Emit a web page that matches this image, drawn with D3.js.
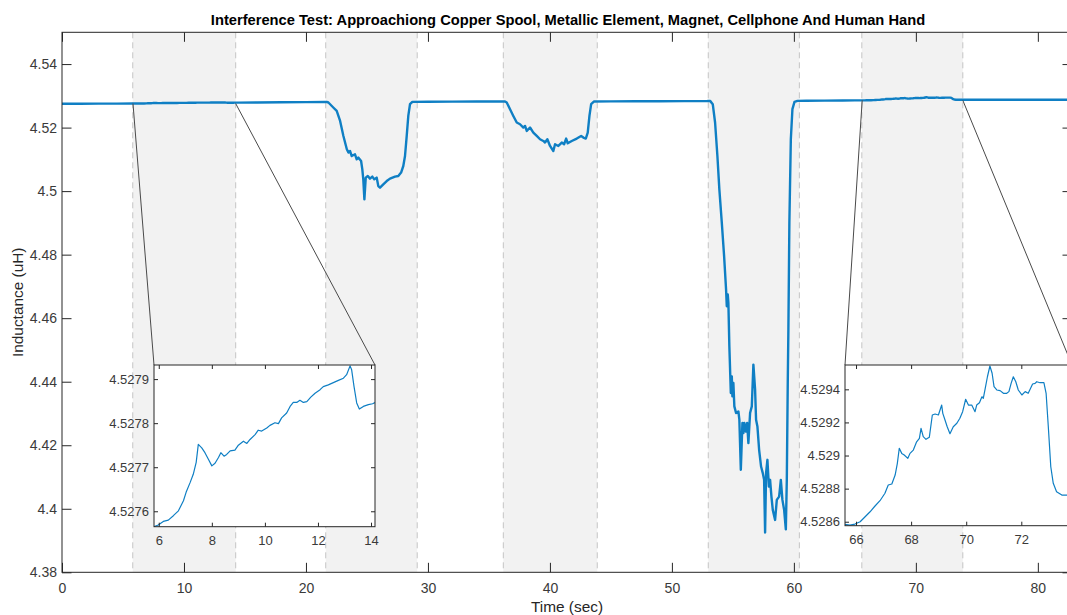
<!DOCTYPE html>
<html><head><meta charset="utf-8">
<script src="https://cdn.jsdelivr.net/npm/d3@7"></script>
<style>
body{margin:0;background:#fff;overflow:hidden;}
svg{display:block;font-family:"Liberation Sans",Arial,Helvetica,sans-serif;}
</style></head><body>
<svg id="chart" width="1067" height="615"></svg>
<script>
const title = "Interference Test: Approachiong Copper Spool, Metallic Element, Magnet, Cellphone And Human Hand";
const xLabel = "Time (sec)";
const yLabel = "Inductance (uH)";

// Main series (time in sec, inductance in uH)
const time = [
  0, 1.5, 3, 4.5,
  5.82, 5.98, 6.17, 6.36, 6.55, 6.74, 6.93, 7.03, 7.18, 7.30, 7.41, 7.49, 7.62, 7.74, 7.87, 8.00,
  8.12, 8.25, 8.34, 8.46, 8.56, 8.69, 8.87, 9.00, 9.19, 9.32, 9.44, 9.63, 9.75, 9.88, 10.07, 10.19,
  10.38, 10.51, 10.63, 10.82, 10.95, 11.07, 11.20, 11.32, 11.45, 11.58, 11.73, 11.89, 12.08, 12.20,
  12.39, 12.58, 12.77, 12.96, 13.08, 13.21, 13.27, 13.36, 13.46, 13.56, 13.71, 13.90, 14.06, 14.15,
  14.5, 16, 18, 20, 21.5,
  21.70, 21.84, 22.24, 22.52, 22.80, 23.07, 23.35, 23.48, 23.61, 23.75, 24.02, 24.16, 24.29, 24.52,
  24.62, 24.70, 24.79, 24.90, 25.07, 25.25, 25.44, 25.60, 25.80, 25.93, 26.07, 26.34, 26.62, 26.89,
  27.30, 27.57, 27.80, 27.98, 28.12, 28.26, 28.39, 28.53, 28.72,
  30, 32, 34, 36.0,
  36.32, 36.46, 36.73, 37.00, 37.28, 37.55, 37.82, 37.96, 38.10, 38.37, 38.64, 38.92, 39.19, 39.46,
  39.60, 39.79, 40.01, 40.28, 40.42, 40.69, 40.97, 41.16, 41.33, 41.46, 41.79, 42.20, 42.56, 42.74,
  42.94, 43.10, 43.24, 43.38, 43.62,
  45, 47, 49, 51, 52.9,
  53.13, 53.35, 53.54, 53.73, 53.89, 54.09, 54.28, 54.44, 54.50, 54.58, 54.63, 54.71, 54.83, 54.91,
  54.96, 55.04, 55.12, 55.26, 55.45, 55.53, 55.65, 55.78, 55.86, 55.94, 56.06, 56.17, 56.27, 56.41,
  56.55, 56.68, 56.82, 56.90, 57.01, 57.15, 57.31, 57.45, 57.56, 57.64, 57.72, 57.83, 57.95, 58.05,
  58.16, 58.27, 58.46, 58.60, 58.79, 58.93, 59.06, 59.20, 59.34, 59.42, 59.50, 59.55, 59.63, 59.75,
  59.88, 60.05, 60.29,
  61, 62.5, 64, 65,
  65.60, 65.78, 65.96, 66.15, 66.33, 66.51, 66.69, 66.87, 67.05, 67.17, 67.30, 67.42, 67.50, 67.57,
  67.66, 67.75, 67.88, 67.96, 68.08, 68.20, 68.30, 68.36, 68.44, 68.54, 68.66, 68.77, 68.87, 68.99,
  69.05, 69.11, 69.15, 69.23, 69.31, 69.41, 69.53, 69.66, 69.77, 69.87, 69.98, 70.08, 70.20, 70.32,
  70.38, 70.48, 70.57, 70.62, 70.68, 70.77, 70.86, 70.94, 71.01, 71.11, 71.23, 71.35, 71.47, 71.55,
  71.63, 71.71, 71.80, 71.89, 72.02, 72.14, 72.25, 72.32, 72.41, 72.50, 72.56, 72.68, 72.82, 72.90,
  72.98, 73.07, 73.16, 73.28, 73.47, 73.65,
  74, 76, 78, 80, 82.8
];
const inductance = [
  4.52752, 4.52753, 4.52755, 4.52756,
  4.527565, 4.527569, 4.527577, 4.527580, 4.527590, 4.527601, 4.527624, 4.527643, 4.527665, 4.527684, 4.527711, 4.527752, 4.527744, 4.527733, 4.527718, 4.527703,
  4.527709, 4.527722, 4.527733, 4.527725, 4.527729, 4.527737, 4.527739, 4.527750, 4.527759, 4.527754, 4.527763, 4.527774, 4.527784, 4.527782, 4.527789, 4.527795,
  4.527801, 4.527799, 4.527812, 4.527823, 4.527838, 4.527847, 4.527847, 4.527852, 4.527847, 4.527849, 4.527859, 4.527868, 4.527876, 4.527883,
  4.527887, 4.527892, 4.527897, 4.527902, 4.527910, 4.527930, 4.527921, 4.527883, 4.527846, 4.527832, 4.527838, 4.527842, 4.527844, 4.527847,
  4.52786, 4.52790, 4.52797, 4.52803, 4.52808,
  4.52809, 4.52790, 4.52633, 4.52525, 4.52210, 4.51737, 4.51317, 4.51213, 4.51264, 4.51106, 4.51160, 4.51002, 4.51056, 4.50948,
  4.50687, 4.50371, 4.49741, 4.50425, 4.50475, 4.50394, 4.50457, 4.50371, 4.50425, 4.50160, 4.50109, 4.50214, 4.50318, 4.50394,
  4.50457, 4.50475, 4.50583, 4.50791, 4.51106, 4.51737, 4.52368, 4.52737, 4.52809,
  4.52815, 4.52818, 4.52820, 4.52822,
  4.52822, 4.52790, 4.52579, 4.52368, 4.52160, 4.52106, 4.52002, 4.52052, 4.51895, 4.52002, 4.51844, 4.51737, 4.51633, 4.51579,
  4.51529, 4.51633, 4.51422, 4.51264, 4.51475, 4.51422, 4.51529, 4.51475, 4.51655, 4.51507, 4.51579, 4.51655, 4.51737, 4.51686,
  4.51655, 4.51844, 4.52368, 4.52737, 4.52822,
  4.52825, 4.52828, 4.52830, 4.52833, 4.52838,
  4.52841, 4.52737, 4.52160, 4.51106, 4.50056, 4.49006, 4.47953, 4.46903, 4.46376, 4.46745, 4.46483, 4.45115, 4.43645, 4.44168,
  4.43538, 4.43960, 4.43222, 4.43014, 4.43065, 4.42803, 4.41226, 4.42699, 4.42383, 4.42699, 4.42434, 4.42699, 4.42068, 4.43014,
  4.43222, 4.44537, 4.43749, 4.42803, 4.42592, 4.41857, 4.41330, 4.41122, 4.40911, 4.39250, 4.41122, 4.41541, 4.40699, 4.40911,
  4.40384, 4.39965, 4.39649, 4.40280, 4.40384, 4.40911, 4.40280, 4.39965, 4.39350, 4.40911, 4.44064, 4.45641, 4.49006, 4.51633,
  4.52579, 4.52809, 4.52841,
  4.52845, 4.52850, 4.52855, 4.52857,
  4.528584, 4.528580, 4.528586, 4.528600, 4.528630, 4.528660, 4.528695, 4.528727, 4.528772, 4.528822, 4.528828, 4.528882, 4.528953, 4.529044,
  4.529013, 4.529003, 4.528983, 4.529013, 4.529033, 4.529083, 4.529104, 4.529164, 4.529114, 4.529098, 4.529110, 4.529245, 4.529251, 4.529245,
  4.529275, 4.529305, 4.529255, 4.529215, 4.529174, 4.529132, 4.529174, 4.529195, 4.529225, 4.529265, 4.529340, 4.529305, 4.529305, 4.529265,
  4.529305, 4.529319, 4.529355, 4.529346, 4.529396, 4.529476, 4.529541, 4.529497, 4.529416, 4.529396, 4.529392, 4.529376, 4.529376, 4.529386,
  4.529436, 4.529476, 4.529446, 4.529396, 4.529366, 4.529386, 4.529376, 4.529400, 4.529432, 4.529436, 4.529446, 4.529440, 4.529440, 4.529376,
  4.529174, 4.528932, 4.528832, 4.528781, 4.528761, 4.528761,
  4.52876, 4.52876, 4.52877, 4.52876, 4.52877
];

// Shaded test intervals (sec)
const shadedStart = [5.8, 21.62, 36.18, 52.98, 65.57];
const shadedEnd   = [14.24, 29.12, 43.88, 60.45, 73.85];

// Main axes
const xDomain = [0, 82.8];
const yDomain = [4.38, 4.55];
const xTicks = [0, 10, 20, 30, 40, 50, 60, 70, 80];
const yTicks = [4.38, 4.40, 4.42, 4.44, 4.46, 4.48, 4.50, 4.52, 4.54];

// Inset 1 (zoom of first interval)
const inset1X = [5.82, 14.15];
const inset1Y = [4.527565, 4.527932];
const inset1XTicks = [6, 8, 10, 12, 14];
const inset1YTicks = [4.5276, 4.5277, 4.5278, 4.5279];

// Inset 2 (zoom of last interval)
const inset2X = [65.6, 73.84];
const inset2Y = [4.528576, 4.529547];
const inset2XTicks = [66, 68, 70, 72];
const inset2YTicks = [4.5286, 4.5288, 4.5290, 4.5292, 4.5294];

const series = time.map((t, i) => ({t, v: inductance[i]}));

const svg = d3.select("#chart");
const W = 1067, H = 615;
const main = {left: 62, right: 1072, top: 32.3, bottom: 572.3};
const lineColor = "#0f7fc4";
const axisColor = "#262626";
const fmt = d => String(parseFloat(d.toFixed(4)));

const x = d3.scaleLinear().domain(xDomain).range([main.left, main.right]);
const y = d3.scaleLinear().domain(yDomain).range([main.bottom, main.top]);

svg.append("rect").attr("width", W).attr("height", H).attr("fill", "#fff");

const defs = svg.append("defs");
defs.append("clipPath").attr("id", "clipMain").append("rect")
  .attr("x", main.left).attr("y", main.top)
  .attr("width", main.right - main.left).attr("height", main.bottom - main.top);

// shaded regions
const shade = svg.append("g").attr("clip-path", "url(#clipMain)");
shade.selectAll("rect").data(shadedStart.map((s, i) => [s, shadedEnd[i]])).join("rect")
  .attr("x", d => x(d[0])).attr("y", main.top)
  .attr("width", d => x(d[1]) - x(d[0])).attr("height", main.bottom - main.top)
  .attr("fill", "#f2f2f2");
shade.selectAll("line.l").data(shadedStart.concat(shadedEnd)).join("line")
  .attr("x1", d => x(d)).attr("x2", d => x(d))
  .attr("y1", main.top).attr("y2", main.bottom)
  .attr("stroke", "#c4c4c4").attr("stroke-width", 1)
  .attr("stroke-dasharray", "6,4");

// main curve
const lineMain = d3.line().x(d => x(d.t)).y(d => y(d.v));
svg.append("g").attr("clip-path", "url(#clipMain)")
  .append("path").datum(series)
  .attr("d", lineMain).attr("fill", "none")
  .attr("stroke", lineColor).attr("stroke-width", 2.4).attr("stroke-linejoin", "round");

function drawAxes(g, xs, ys, box, xt, yt, tick, padX, padY, fs) {
  const ax = g.append("g");
  ax.append("g").attr("transform", `translate(0,${box.bottom})`)
    .call(d3.axisBottom(xs).tickValues(xt).tickSizeInner(-tick).tickSizeOuter(0).tickPadding(padX).tickFormat(fmt));
  ax.append("g").attr("transform", `translate(0,${box.top})`)
    .call(d3.axisTop(xs).tickValues(xt).tickSizeInner(-tick).tickSizeOuter(0).tickFormat(""));
  ax.append("g").attr("transform", `translate(${box.left},0)`)
    .call(d3.axisLeft(ys).tickValues(yt).tickSizeInner(-tick).tickSizeOuter(0).tickPadding(padY).tickFormat(fmt));
  ax.append("g").attr("transform", `translate(${box.right},0)`)
    .call(d3.axisRight(ys).tickValues(yt).tickSizeInner(-tick).tickSizeOuter(0).tickFormat(""));
  ax.selectAll(".domain").remove();
  ax.selectAll(".tick line").attr("stroke", axisColor).attr("stroke-width", 1);
  ax.selectAll(".tick text").attr("fill", "#3a3a3a").attr("font-size", fs)
    .attr("font-family", "'Liberation Sans', Arial, sans-serif");
  ax.append("rect").attr("x", box.left).attr("y", box.top)
    .attr("width", box.right - box.left).attr("height", box.bottom - box.top)
    .attr("fill", "none").attr("stroke", axisColor).attr("stroke-width", 1);
  return ax;
}
drawAxes(svg, x, y, main, xTicks, yTicks, 9.5, 11, 5, 14);

// Inset boxes
const box1 = {left: 154, right: 375, top: 365, bottom: 526.7};
const box2 = {left: 845, right: 1072, top: 365, bottom: 525.7};

// connector lines
const conn = [
  [x(inset1X[0]), y(inset1Y[0]), box1.left, box1.top],
  [x(shadedEnd[0]), y(inset1Y[0]), box1.right, box1.top],
  [x(inset2X[0]), y(inset2Y[0]), box2.left, box2.top],
  [x(shadedEnd[4]), y(inset2Y[0]), box2.right, box2.top]
];
svg.append("g").selectAll("line").data(conn).join("line")
  .attr("x1", d => d[0]).attr("y1", d => d[1]).attr("x2", d => d[2]).attr("y2", d => d[3])
  .attr("stroke", "#4a4a4a").attr("stroke-width", 1);

function drawInset(id, box, xd, yd, xt, yt) {
  const xs = d3.scaleLinear().domain(xd).range([box.left, box.right]);
  const ys = d3.scaleLinear().domain(yd).range([box.bottom, box.top]);
  const g = svg.append("g");
  g.append("rect").attr("x", box.left).attr("y", box.top)
    .attr("width", box.right - box.left).attr("height", box.bottom - box.top).attr("fill", "#fff");
  defs.append("clipPath").attr("id", id).append("rect")
    .attr("x", box.left).attr("y", box.top)
    .attr("width", box.right - box.left).attr("height", box.bottom - box.top);
  const sub = series.filter(d => d.t >= xd[0] - 0.5 && d.t <= xd[1] + 0.5);
  g.append("path").datum(sub).attr("clip-path", `url(#${id})`)
    .attr("d", d3.line().x(d => xs(d.t)).y(d => ys(d.v)))
    .attr("fill", "none").attr("stroke", lineColor).attr("stroke-width", 1.2)
    .attr("stroke-linejoin", "round");
  drawAxes(g, xs, ys, box, xt, yt, 4, 9, 5, 13);
}
drawInset("clipI1", box1, inset1X, inset1Y, inset1XTicks, inset1YTicks);
drawInset("clipI2", box2, inset2X, inset2Y, inset2XTicks, inset2YTicks);

// Title and axis labels
svg.append("text").attr("x", (main.left + main.right) / 2 + 1).attr("y", 25)
  .attr("text-anchor", "middle").attr("font-weight", "bold").attr("font-size", 14.7)
  .attr("fill", "#000").text(title);
svg.append("text").attr("x", (main.left + main.right) / 2).attr("y", 612)
  .attr("text-anchor", "middle").attr("font-size", 15.4).attr("fill", "#262626").text(xLabel);
svg.append("text").attr("transform", `translate(23,${(main.top + main.bottom) / 2}) rotate(-90)`)
  .attr("text-anchor", "middle").attr("font-size", 15.4).attr("fill", "#262626").text(yLabel);
</script>
</body></html>
